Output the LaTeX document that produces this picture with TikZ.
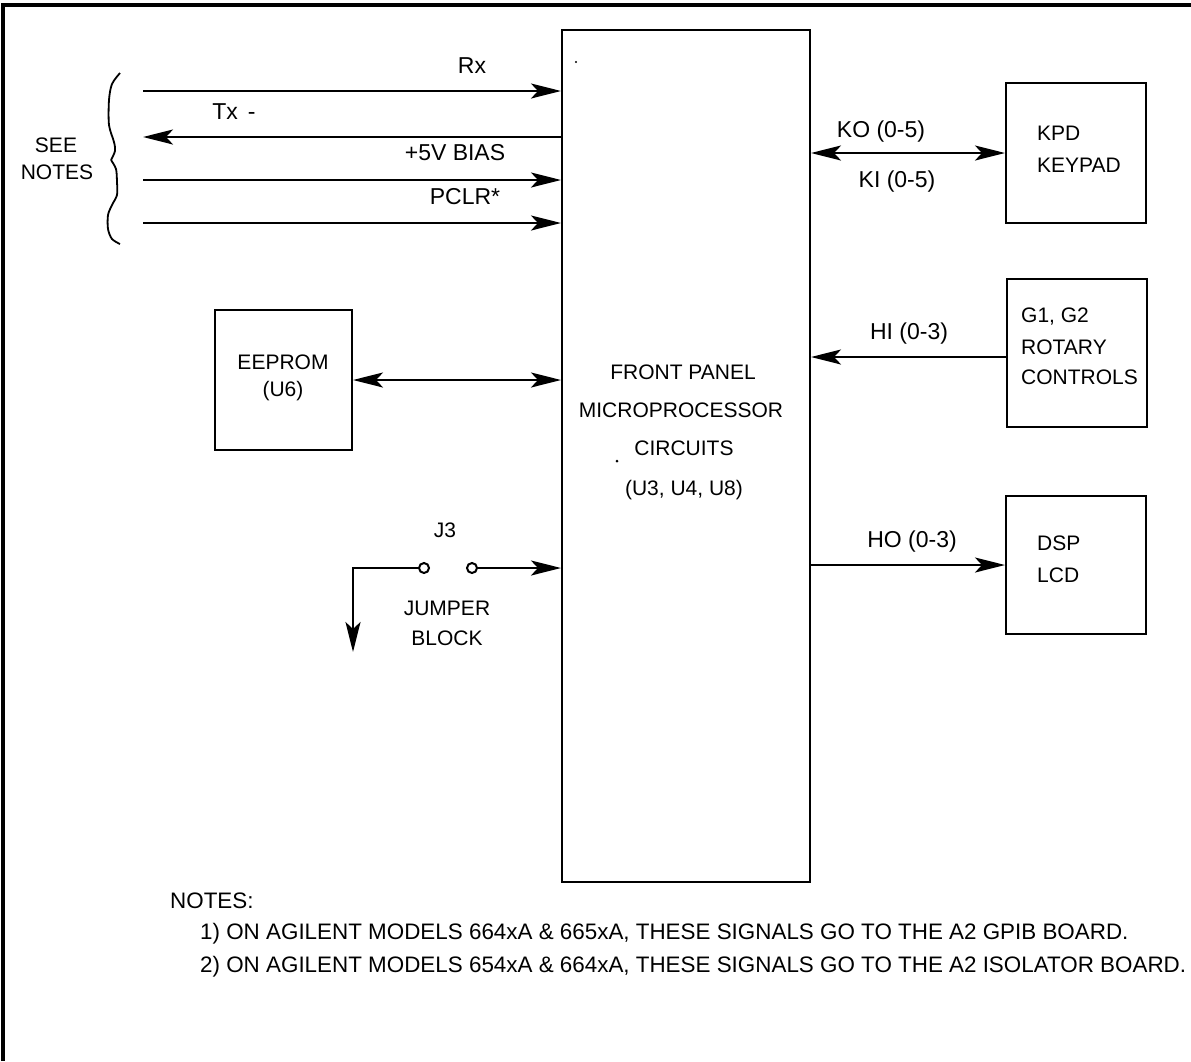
\documentclass[tikz,border=0pt]{standalone}
\usepackage{fontspec}
\setmainfont{Liberation Sans}
\usetikzlibrary{arrows.meta}
\begin{document}
\begin{tikzpicture}[x=1pt,y=-1pt,
  >={Stealth[length=30pt,width=15pt,inset=7pt]},
  sig/.style={line width=2.6pt},
  blk/.style={draw,line width=2pt,inner sep=0pt},
  lbl/.style={inner sep=0pt,anchor=mid,font=\fontsize{21}{25}\selectfont},
  sl/.style={inner sep=0pt,anchor=mid,font=\fontsize{23}{27}\selectfont},
  lblw/.style={inner sep=0pt,anchor=mid west,font=\fontsize{21}{25}\selectfont},
  note/.style={inner sep=0pt,anchor=mid west,font=\fontsize{22.4}{26}\selectfont},
  pin/.style={circle,draw,line width=2pt,minimum size=10pt,inner sep=0pt,fill=white}
]
\useasboundingbox (0,0) rectangle (1191,1061);
\draw[line width=4pt] (3,1061) -- (3,5) -- (1191,5);

% blocks
\node[blk,minimum width=248pt,minimum height=852pt] (main) at (686,456) {};
\node[blk,minimum width=140pt,minimum height=140pt] (kpd) at (1076,153) {};
\node[blk,minimum width=140pt,minimum height=148pt] (g1) at (1077,353) {};
\node[blk,minimum width=140pt,minimum height=138pt] (dsp) at (1076,565) {};
\node[blk,minimum width=137pt,minimum height=140pt] (ee) at (283.5,380) {};

% block texts
\node[lbl] (t1) at (683,377) {FRONT PANEL};
\node[lbl] (t2) at (681,415) {MICROPROCESSOR};
\node[lbl] (t3) at (684,453) {CIRCUITS};
\node[lbl] (t4) at (684,493) {(U3, U4, U8)};
\fill (617,461) circle (1.5);
\fill (576,62) circle (1.2);
\node[lbl] (e1) at (283,367) {EEPROM};
\node[lbl] (e2) at (283,394) {(U6)};
\node[lblw] (k1) at (1037,138) {KPD};
\node[lblw] (k2) at (1037,170) {KEYPAD};
\node[lblw] (g1a) at (1021,320) {G1, G2};
\node[lblw] (g1b) at (1021,352) {ROTARY};
\node[lblw] (g1c) at (1021,382) {CONTROLS};
\node[lblw] (d1) at (1037,548) {DSP};
\node[lblw] (d2) at (1037,580) {LCD};

% left signals
\coordinate (rxL) at (143,91);
\coordinate (txL) at (143,137);
\coordinate (bsL) at (143,180);
\coordinate (pcL) at (143,223);
\draw[sig,->] (rxL) -- (rxL -| main.west);
\draw[sig,->] (txL -| main.west) -- (txL);
\draw[sig,->] (bsL) -- (bsL -| main.west);
\draw[sig,->] (pcL) -- (pcL -| main.west);
\node[sl] (rxl) at (472,71) {Rx};
\node[sl] (txl) at (234,117) {Tx\hspace{10pt}-};
\node[sl] (bsl) at (455,158) {+5V BIAS};
\node[sl] (pcl) at (465,202) {PCLR*};

% brace and see notes
\draw[line width=1.8pt] plot[smooth] coordinates {(120,73) (112,84) (109,100) (109,125) (114,142) (115,151) (111,160)};
\draw[line width=1.8pt] plot[smooth] coordinates {(111,160) (116,169) (117,182) (117,195) (112,205) (108,215) (108,229) (112,239) (120,244)};
\node[lbl] (see) at (56,150) {SEE};
\node[lbl] (sn) at (57,177) {NOTES};

% eeprom link
\draw[sig,<->] (ee.east) -- (ee.east -| main.west);

% jumper
\node[pin] (c1) at (424,568) {};
\node[pin] (c2) at (472,568) {};
\coordinate (gnd) at (353,652);
\draw[sig,->] (c2.east) -- (c2.east -| main.west);
\draw[sig,->] (c1.west) -| (gnd);
\node[lbl] (j3) at (445,535) {J3};
\node[lbl] (jb1) at (447,613) {JUMPER};
\node[lbl] (jb2) at (447,643) {BLOCK};

% right signals
\draw[sig,<->] (main.east |- kpd.west) -- (kpd.west);
\node[sl] (kol) at (881,135) {KO (0-5)};
\node[sl] (kil) at (897,185) {KI (0-5)};
\draw[sig,->] ([yshift=-4pt]g1.west) -- ([yshift=-4pt]g1.west -| main.east);
\node[sl] (hil) at (909,337) {HI (0-3)};
\draw[sig,->] (main.east |- dsp.west) -- (dsp.west);
\node[sl] (hol) at (912,545) {HO (0-3)};

% notes
\node[note] (n0) at (170,906) {NOTES:};
\node[note] (n1) at (200,937) {1) ON AGILENT MODELS 664xA \& 665xA, THESE SIGNALS GO TO THE A2 GPIB BOARD.};
\node[note] (n2) at (200,970) {2) ON AGILENT MODELS 654xA \& 664xA, THESE SIGNALS GO TO THE A2 ISOLATOR BOARD.};
\end{tikzpicture}
\end{document}
